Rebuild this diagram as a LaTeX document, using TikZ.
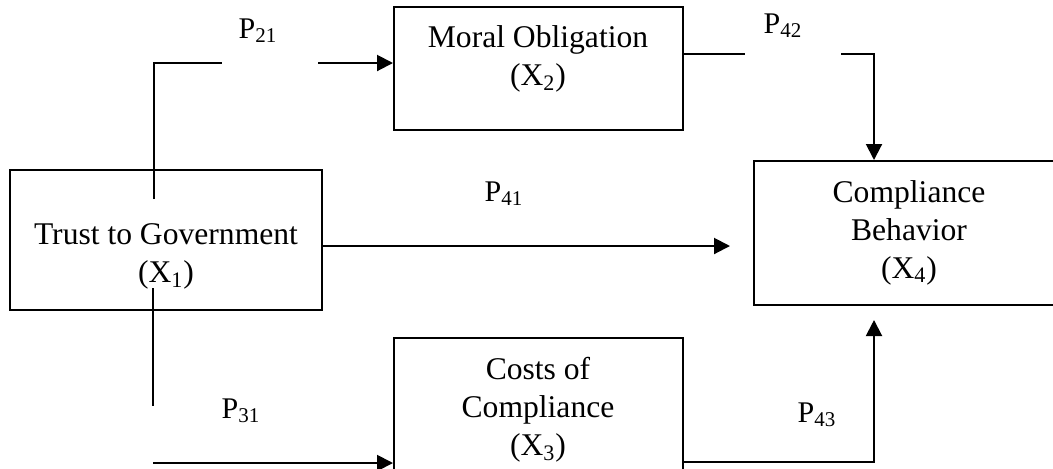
\documentclass[tikz,border=0pt]{standalone}
\usepackage{amssymb}
\usepackage{amsmath}
\usepackage{fontspec}
\setmainfont{Liberation Serif}
\usepackage{tikz}
\usetikzlibrary{arrows.meta}

\begin{document}
\begin{tikzpicture}[x=0.5pt,y=-0.5pt,
        box/.style={draw,line width=1pt,inner sep=0pt},
        txt/.style={align=center,anchor=north,inner sep=0pt,font=\fontsize{15.8}{19}\selectfont},
        lbl/.style={anchor=base,inner sep=0pt,font=\fontsize{15}{17}\selectfont},
        link/.style={line width=0.75pt},
        arr/.style={line width=1pt,-{Triangle[length=8pt,width=8pt]}}]
        \path[use as bounding box,clip] (0,0) rectangle (1053,468);

        \node[box,minimum width=156pt,minimum height=70pt] (trust) at (166,240) {};
        \node[box,minimum width=144.5pt,minimum height=61.5pt] (moral) at (538.5,68.5) {};
        \node[box,minimum width=144.5pt,minimum height=71pt] (costs) at (538.5,409) {};
        \node[box,minimum width=156pt,minimum height=72pt] (behav) at (910,233) {};

        \node[txt] (ttrust) at (166,223) {Trust to Government\\(X\textsubscript{1})};
        \node[txt] (tmoral) at (538,25) {Moral Obligation\\(X\textsubscript{2})};
        \node[txt] (tcosts) at (538,357) {Costs of\\Compliance\\(X\textsubscript{3})};
        \node[txt] (tbehav) at (909,180) {Compliance\\Behavior\\(X\textsubscript{4})};

        \coordinate (p21in) at (154,199);
        \coordinate (p21out) at (222,63);
        \coordinate (p21back) at (318,63);
        \coordinate (p42out) at (745,54);
        \coordinate (p42back) at (841,54);
        \coordinate (p42turn) at (874,54);
        \coordinate (p41end) at (730,246);
        \coordinate (p31in) at (153,288);
        \coordinate (p31out) at (153,406);
        \coordinate (p31back) at (153,463);
        \coordinate (p43turn) at (874,462);
        \coordinate (p43end) at (874,320);

        \draw[link] (p21in) |- (p21out);
        \draw[arr] (p21back) -- (p21back -| moral.west);
        \node[lbl] (p21) at (258,38) {P\textsubscript{21}};

        \draw[link] (moral.east |- p42out) -- (p42out);
        \draw[arr] (p42back) -- (p42turn) -- (p42turn |- behav.north);
        \node[lbl] (p42) at (783,33) {P\textsubscript{42}};

        \draw[arr] (trust.east |- p41end) -- (p41end);
        \node[lbl] (p41) at (504,201) {P\textsubscript{41}};

        \draw[link] (p31in) -- (p31out);
        \draw[arr] (p31back) -- (p31back -| costs.west);
        \node[lbl] (p31) at (241,418) {P\textsubscript{31}};

        \draw[arr] (costs.east |- p43turn) -- (p43turn) -- (p43end);
        \node[lbl] (p43) at (817,422) {P\textsubscript{43}};
    \end{tikzpicture}
\end{document}
